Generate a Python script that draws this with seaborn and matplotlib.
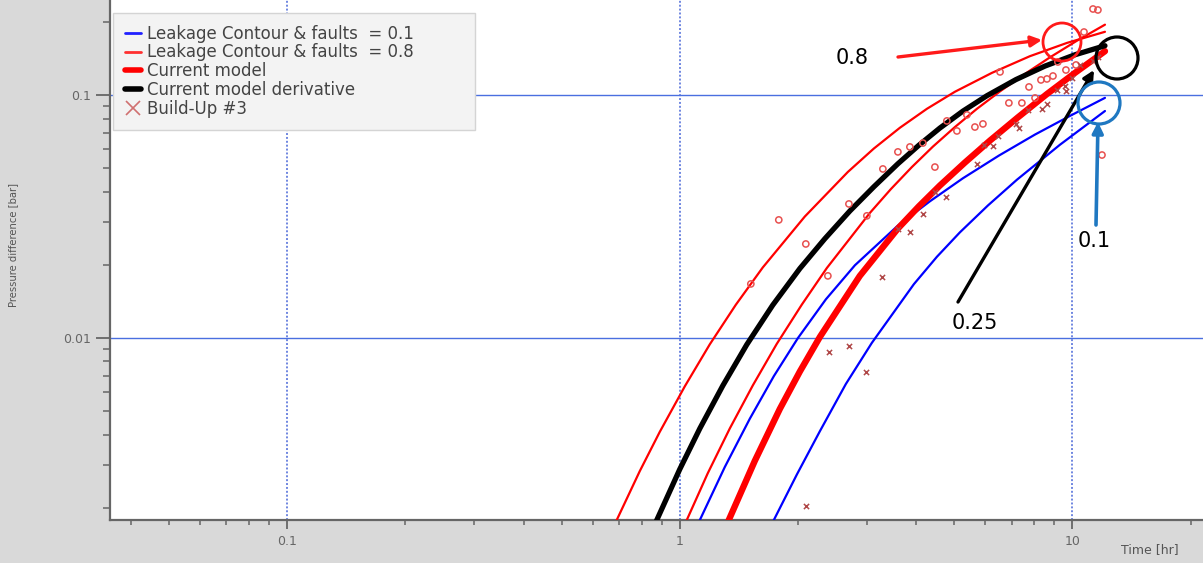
import numpy as np
import pandas as pd
import matplotlib
matplotlib.use("Agg")
import matplotlib.pyplot as plt
import seaborn as sns
from matplotlib.lines import Line2D
from matplotlib.patches import Ellipse, FancyArrowPatch
from matplotlib.ticker import FixedLocator, FixedFormatter, LogLocator, NullFormatter

# ---------------- data ----------------
# Leakage Contour & faults = 0.8 (two thin red curves)
red_a_t = [0.625, 0.691, 0.791, 0.889, 1.030, 1.192, 1.389, 1.627, 2.082, 2.679, 3.121, 3.636,
           4.259, 5.02, 6.235, 7.79, 9.683, 12.10]
red_a_p = [0.00124, 0.00178, 0.00283, 0.00410, 0.00632, 0.00940, 0.01369, 0.0195, 0.0316, 0.0482,
           0.0602, 0.0733, 0.0877, 0.1031, 0.1233, 0.1444, 0.1638, 0.182]
red_b_t = [0.943, 1.042, 1.178, 1.341, 1.535, 1.766, 2.046, 2.369, 3.049, 3.449, 3.900, 4.412,
           5.02, 5.711, 6.54, 7.568, 8.76, 10.27, 12.10]
red_b_p = [0.00122, 0.00178, 0.00277, 0.00424, 0.00638, 0.00945, 0.01372, 0.0194, 0.0327, 0.0410,
           0.0505, 0.0613, 0.0738, 0.0877, 0.1035, 0.1221, 0.1428, 0.1673, 0.1947]
# Leakage Contour & faults = 0.1 (two thin blue curves)
blue_a_t = [1.015, 1.125, 1.302, 1.508, 1.736, 1.998, 2.355, 2.792, 3.593, 4.335, 5.26, 6.497,
            8.026, 9.854, 12.10]
blue_a_p = [0.00122, 0.00178, 0.00294, 0.00465, 0.00696, 0.00997, 0.01441, 0.0199, 0.0290, 0.0365,
            0.0454, 0.0563, 0.0687, 0.0820, 0.0973]
blue_b_t = [1.553, 1.736, 1.987, 2.274, 2.648, 3.084, 3.947, 4.516, 5.169, 6.093, 7.223, 9.294, 12.10]
blue_b_p = [0.00122, 0.00178, 0.00274, 0.00413, 0.00646, 0.00954, 0.01665, 0.02157, 0.0272, 0.0351,
            0.0448, 0.0624, 0.0859]
# Current model (thick red) and its derivative (black)
model_t = [1.214, 1.333, 1.553, 1.798, 2.022, 2.274, 2.874, 3.593, 4.063, 4.597, 5.322, 6.165,
           7.264, 8.61, 10.21, 12.10]
model_p = [0.00122, 0.00178, 0.00312, 0.0051, 0.00727, 0.01009, 0.0180, 0.0282, 0.0348, 0.0424,
           0.0527, 0.0649, 0.0809, 0.1009, 0.1242, 0.1514]
deriv_t = [0.791, 0.874, 1.0, 1.125, 1.287, 1.481, 1.725, 2.022, 2.341, 2.711, 3.121, 3.593,
           4.063, 4.597, 5.26, 6.056, 7.178, 8.51, 10.15, 12.10]
deriv_p = [0.00122, 0.00178, 0.00288, 0.00424, 0.00636, 0.00938, 0.01365, 0.0193, 0.0256, 0.0333,
           0.0419, 0.0521, 0.0621, 0.0731, 0.0858, 0.0993, 0.1157, 0.1315, 0.1464, 0.1595]
# Measured derivative points (red circles)
circ_t = [1.517, 1.787, 2.094, 2.383, 2.696, 2.995, 3.290, 3.593, 3.855, 4.160,
          4.464, 4.788, 5.079, 5.385, 5.644, 5.916, 6.54, 6.888, 7.434, 7.75,
          8.03, 8.313, 8.61, 8.92, 9.18, 9.625, 10.21, 10.70, 11.28, 11.61, 11.89]
circ_p = [0.01668, 0.0306, 0.02436, 0.0180, 0.0356, 0.0318, 0.0496, 0.0583, 0.0611, 0.0634,
          0.0505, 0.0782, 0.0711, 0.0828, 0.0738, 0.0760, 0.1244, 0.0927, 0.0927, 0.1079,
          0.0972, 0.1153, 0.1164, 0.1197, 0.1367, 0.1267, 0.1329, 0.1816, 0.2259, 0.2238, 0.0566]
# Build-Up #3 pressure points (crosses)
bu_t = [2.094, 2.397, 2.696, 2.978, 3.270, 3.593, 3.855, 4.160, 4.464, 4.760,
        5.711, 5.951, 6.274, 6.461, 7.178, 7.305, 7.702, 8.36, 8.61, 9.13,
        9.625, 9.57, 9.97, 10.45, 11.28, 11.61]
bu_p = [0.00203, 0.00876, 0.00927, 0.00725, 0.01782, 0.0281, 0.0273, 0.0324, 0.0399, 0.0380,
        0.0520, 0.0622, 0.0617, 0.0678, 0.0760, 0.0731, 0.0868, 0.0876, 0.0918, 0.1048,
        0.1038, 0.1089, 0.1175, 0.1329, 0.1380, 0.1433]

x_ticks = [0.1, 1, 10]
x_tick_labels = ["0.1", "1", "10"]
y_ticks = [0.01, 0.1]
y_tick_labels = ["0.01", "0.1"]
legend_labels = ["Leakage Contour & faults  = 0.1",
                 "Leakage Contour & faults  = 0.8",
                 "Current model",
                 "Current model derivative",
                 "Build-Up #3"]

# ---------------- styling ----------------
sns.set_theme(style="white")
plt.rcParams['font.family'] = ['DejaVu Sans']

W, H = 1203, 563
BG = '#d9d9d9'
fig = plt.figure(figsize=(W / 100, H / 100), dpi=100, facecolor=BG)
ax = fig.add_axes([110 / W, 43 / H, (W - 110) / W, (H - 43) / H])
ax.set_facecolor('white')
ax.set_xscale('log')
ax.set_yscale('log')
ax.set_xlim(0.0354, 21.5)
ax.set_ylim(0.00178, 0.246)

# grid
for xv in x_ticks:
    ax.axvline(xv, color='#6f86e0', lw=1.4, ls=(0, (1, 1)), zorder=1)
for yv in y_ticks:
    ax.axhline(yv, color='#4a6fe0', lw=1.0, ls='-', zorder=1)

THIN = 1.6
def curve(t, p, color, lw, z):
    df = pd.DataFrame({'t': t, 'p': p})
    sns.lineplot(data=df, x='t', y='p', color=color, lw=lw, ax=ax,
                 estimator=None, sort=False, zorder=z, legend=False,
                 solid_joinstyle='round', solid_capstyle='round')

curve(blue_a_t, blue_a_p, '#0000ff', THIN, 3)
curve(blue_b_t, blue_b_p, '#0000ff', THIN, 3)
curve(red_a_t, red_a_p, '#ff0000', THIN, 3)
curve(red_b_t, red_b_p, '#ff0000', THIN, 3)
curve(model_t, model_p, '#ff0000', 4.6, 4)
curve(deriv_t, deriv_p, '#000000', 3.8, 4)

sns.scatterplot(x=circ_t, y=circ_p, marker='o', s=20, facecolor='none',
                edgecolor='#e8504f', linewidth=1.1, ax=ax, zorder=5, legend=False)
sns.scatterplot(x=bu_t, y=bu_p, marker='x', s=14, color='#b04848',
                linewidth=1.1, ax=ax, zorder=5, legend=False)

ax.set_xlabel('')
ax.set_ylabel('')

# spines & ticks
for s in ['top', 'right']:
    ax.spines[s].set_visible(False)
for s in ['left', 'bottom']:
    ax.spines[s].set_color('#666666')
    ax.spines[s].set_linewidth(1.6)

ax.xaxis.set_major_locator(FixedLocator(x_ticks))
ax.xaxis.set_major_formatter(FixedFormatter(x_tick_labels))
ax.xaxis.set_minor_locator(LogLocator(base=10, subs=np.arange(2, 10)))
ax.xaxis.set_minor_formatter(NullFormatter())
ax.yaxis.set_major_locator(FixedLocator(y_ticks))
ax.yaxis.set_major_formatter(FixedFormatter(y_tick_labels))
ax.yaxis.set_minor_locator(LogLocator(base=10, subs=np.arange(2, 10)))
ax.yaxis.set_minor_formatter(NullFormatter())

ax.tick_params(axis='x', which='major', direction='out', length=6.5, width=1.3,
               color='#666666', labelcolor='#666666', labelsize=9, pad=4)
ax.tick_params(axis='x', which='minor', direction='out', length=3.5, width=1.1,
               color='#666666')
ax.tick_params(axis='y', which='major', direction='out', length=10, width=1.3,
               color='#666666', labelcolor='#666666', labelsize=9, pad=4)
ax.tick_params(axis='y', which='minor', direction='out', length=5, width=1.1,
               color='#666666')
ax.tick_params(bottom=True, left=True, which='both')

fig.text(13 / W, 1 - 245 / H, 'Pressure difference [bar]', rotation=90,
         ha='center', va='center', fontsize=8, color='#555555',
         family='DejaVu Sans', fontstretch='condensed')
fig.text(1150 / W, 1 - 550 / H, 'Time [hr]', ha='center', va='center',
         fontsize=9, color='#555555')

# legend
handles = [
    Line2D([], [], color='#2020ff', lw=2),
    Line2D([], [], color='#ff3030', lw=2),
    Line2D([], [], color='#ff0000', lw=4),
    Line2D([], [], color='#000000', lw=4),
    Line2D([], [], color='#d07070', ls='none', marker='x', markersize=10, mew=1.2),
]
leg_w = (475 - 113) / (W - 110)
leg = ax.legend(handles, legend_labels, loc='upper left',
                bbox_to_anchor=(3 / (W - 110), 0.0, leg_w, 1 - 13 / (H - 43)),
                mode='expand', borderaxespad=0, frameon=True, fancybox=False, framealpha=1,
                facecolor='#f3f3f3', edgecolor='#d4d4d4', fontsize=12,
                handlelength=1.0, handletextpad=0.35, labelspacing=0.05,
                borderpad=0.7, labelcolor='#444444')
leg.get_frame().set_linewidth(1.0)
leg.set_zorder(10)

# annotations (figure-pixel placement)
def P(px, py):
    return (px / W, 1 - py / H)

def ring(cx, cy, r, color, lw):
    e = Ellipse(P(cx, cy), width=2 * r / W, height=2 * r / H, fill=False,
                edgecolor=color, lw=lw, transform=fig.transFigure, zorder=20)
    fig.add_artist(e)

def arrow(a, b, color, lw):
    ar = FancyArrowPatch(P(*a), P(*b), transform=fig.transFigure, arrowstyle='-|>',
                         mutation_scale=16, lw=lw, color=color, zorder=20,
                         shrinkA=0, shrinkB=0)
    fig.add_artist(ar)

ring(1062, 42, 19, '#ff1a1a', 2.0)
arrow((898, 57), (1042, 40), '#ff1a1a', 2.4)
fig.text(*P(852, 58), '0.8', ha='center', va='center', fontsize=15, color='black')

ring(1117, 58, 21, '#000000', 2.3)
arrow((958, 302), (1094, 70), '#000000', 2.4)
fig.text(*P(975, 323), '0.25', ha='center', va='center', fontsize=15, color='black')

ring(1099, 103, 21, '#1f78c1', 2.3)
arrow((1096, 225), (1098, 122), '#1f78c1', 2.6)
fig.text(*P(1094, 241), '0.1', ha='center', va='center', fontsize=15, color='black')

fig.savefig('out.png', dpi=100, facecolor=BG)
